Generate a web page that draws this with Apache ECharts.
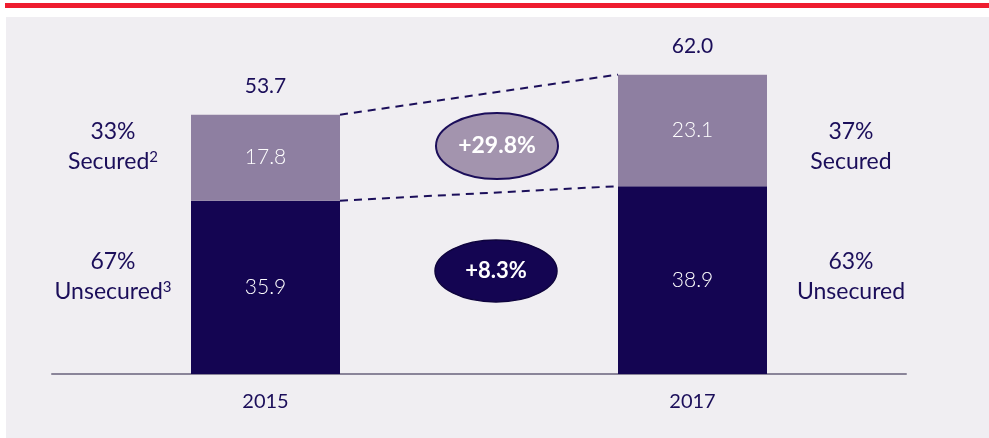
<!DOCTYPE html>
<html>
<head>
<meta charset="utf-8">
<style>
  html, body { margin: 0; padding: 0; background: #ffffff; }
  #chart { width: 989px; height: 438px; }
</style>
<script src="https://cdn.jsdelivr.net/npm/echarts@6/dist/echarts.min.js"></script>
</head>
<body>
<div id="chart"></div>
<script>
// Loan book split by year (values in billions)
const years = ['2015', '2017'];
const unsecured = [35.9, 38.9];
const secured = [17.8, 23.1];
const totals = [53.7, 62.0];
const growthSecured = '+29.8%';
const growthUnsecured = '+8.3%';
const leftLabels = { securedPct: '33%', secured: 'Secured', securedNote: '2', unsecuredPct: '67%', unsecured: 'Unsecured', unsecuredNote: '3' };
const rightLabels = { securedPct: '37%', secured: 'Secured', unsecuredPct: '63%', unsecured: 'Unsecured' };

const NAVY = '#1b0e5a';
const DARK = '#140552';
const LIGHT = '#8e7fa1';
const FONT = 'Lato';
const BAR_W = 149;

const chart = echarts.init(document.getElementById('chart'), null, { renderer: 'canvas' });

const option = {
  backgroundColor: '#ffffff',
  animation: false,
  textStyle: { fontFamily: FONT },
  grid: { left: 52, width: 854, top: 36, bottom: 64, containLabel: false },
  xAxis: {
    type: 'category',
    data: years,
    axisLine: { show: true, lineStyle: { color: '#8a8499', width: 2 } },
    axisTick: { show: false },
    axisLabel: { color: NAVY, fontSize: 20, fontFamily: FONT, margin: 18 }
  },
  yAxis: {
    type: 'value', min: 0, max: 70,
    show: false, splitLine: { show: false }
  },
  series: [
    {
      name: 'Unsecured', type: 'bar', stack: 'total', barWidth: BAR_W,
      data: unsecured,
      itemStyle: { color: DARK },
      label: { show: true, position: 'inside', color: '#ffffff', fontSize: 21, fontFamily: FONT, fontWeight: 300,
               formatter: p => p.value.toFixed(1) }
    },
    {
      name: 'Secured', type: 'bar', stack: 'total', barWidth: BAR_W,
      data: secured,
      itemStyle: { color: LIGHT },
      label: { show: true, position: 'inside', color: '#ffffff', fontSize: 21, fontFamily: FONT, fontWeight: 300,
               formatter: p => p.value.toFixed(1) }
    },
    {
      name: 'Total', type: 'bar', stack: 'total', barWidth: BAR_W,
      data: totals.map(() => 0),
      itemStyle: { color: 'transparent' },
      label: { show: true, position: 'top', distance: 18, color: NAVY, fontSize: 21, fontFamily: FONT,
               formatter: p => totals[p.dataIndex].toFixed(1) }
    }
  ]
};
chart.setOption(option);

// Connector lines between bar edges, placed from the axis scales
const px = (i, v) => chart.convertToPixel({ xAxisIndex: 0, yAxisIndex: 0 }, [i, v]);
const half = BAR_W / 2;
const a1 = px(0, totals[0]), b1 = px(1, totals[1]);
const a2 = px(0, unsecured[0]), b2 = px(1, unsecured[1]);

const sideText = (x, y, pct, word, note) => ({
  type: 'text', x: x, y: y, z: 10,
  style: {
    text: '{p|' + pct + '}\n{w|' + word + '}' + (note ? '{s|' + note + '}' : ''),
    align: 'center', verticalAlign: 'middle',
    rich: {
      p: { fontSize: 23, fontFamily: FONT, fill: NAVY, color: NAVY, lineHeight: 30, align: 'center' },
      w: { fontSize: 23, fontFamily: FONT, fill: NAVY, color: NAVY, lineHeight: 30 },
      s: { fontSize: 15, fontFamily: FONT, fill: NAVY, color: NAVY, lineHeight: 30, padding: [0, 0, 10, 0] }
    }
  }
});

chart.setOption({
  graphic: [
    { type: 'rect', z: -10, shape: { x: 5, y: 3, width: 984, height: 5 }, style: { fill: '#ee1d2f' }, silent: true },
    { type: 'rect', z: -10, shape: { x: 6, y: 17, width: 983, height: 421 }, style: { fill: '#f0eef2' }, silent: true },
    { type: 'line', z: 5, shape: { x1: a1[0] + half, y1: a1[1], x2: b1[0] - half, y2: b1[1] },
      style: { stroke: NAVY, lineWidth: 2, lineDash: [8, 6] } },
    { type: 'line', z: 5, shape: { x1: a2[0] + half, y1: a2[1], x2: b2[0] - half, y2: b2[1] },
      style: { stroke: NAVY, lineWidth: 2, lineDash: [8, 6] } },
    { type: 'ellipse', z: 6, shape: { cx: 497, cy: 146, rx: 61, ry: 33 },
      style: { fill: '#a394ae', stroke: NAVY, lineWidth: 2 } },
    { type: 'text', z: 7, x: 497, y: 146,
      style: { text: growthSecured, fill: '#ffffff', fontSize: 23, fontWeight: 'bold', fontFamily: FONT, align: 'center', verticalAlign: 'middle' } },
    { type: 'ellipse', z: 6, shape: { cx: 496, cy: 271, rx: 61, ry: 31 },
      style: { fill: DARK, stroke: '#0e033d', lineWidth: 1.5 } },
    { type: 'text', z: 7, x: 496, y: 271,
      style: { text: growthUnsecured, fill: '#ffffff', fontSize: 22, fontWeight: 'bold', fontFamily: FONT, align: 'center', verticalAlign: 'middle' } },
    sideText(113, 147, leftLabels.securedPct, leftLabels.secured, leftLabels.securedNote),
    sideText(113, 277, leftLabels.unsecuredPct, leftLabels.unsecured, leftLabels.unsecuredNote),
    sideText(851, 147, rightLabels.securedPct, rightLabels.secured),
    sideText(851, 277, rightLabels.unsecuredPct, rightLabels.unsecured)
  ]
});
</script>
</body>
</html>
